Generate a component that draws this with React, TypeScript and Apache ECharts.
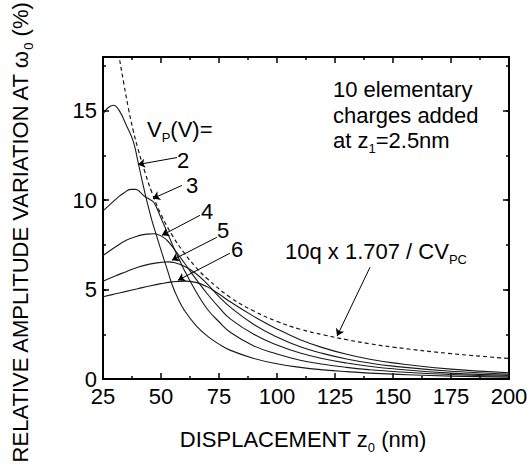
import React, { useEffect, useRef } from 'react';
import * as echarts from 'echarts';

const FONT = 'Liberation Sans, Arial, sans-serif';

const xTickLabels = [25, 50, 75, 100, 125, 150, 175, 200];
const yTickLabels = [0, 5, 10, 15];

const curveV2: [number, number][] = [
  [25, 14.8], [27, 15.15], [29.5, 15.3], [32, 15.0], [35, 14.2], [38, 13.3], [40, 12.2],
  [42, 11.0], [44, 9.9], [46, 8.9], [48, 8.05], [50, 7.2], [52.5, 6.2], [55, 5.2],
  [57.5, 4.45], [60, 3.85], [65, 3.0], [70, 2.4], [75, 1.95], [80, 1.6], [90, 1.15],
  [100, 0.85], [110, 0.65], [120, 0.51], [130, 0.41], [140, 0.33], [150, 0.27],
  [175, 0.16], [200, 0.1],
];
const curveV3: [number, number][] = [
  [25, 9.4], [28, 9.75], [31, 10.1], [34, 10.4], [37, 10.6], [39, 10.6], [41, 10.45],
  [43, 10.2], [45, 10.05], [47, 9.85], [50, 9.0], [53, 8.1], [56, 7.2], [60, 6.1],
  [65, 4.9], [70, 3.9], [75, 3.2], [80, 2.6], [90, 1.85], [100, 1.4], [110, 1.05],
  [120, 0.82], [130, 0.65], [140, 0.52], [150, 0.42], [175, 0.25], [200, 0.15],
];
const curveV4: [number, number][] = [
  [25, 6.9], [30, 7.35], [35, 7.75], [40, 8.0], [44, 8.1], [47, 8.12], [50, 8.0],
  [53, 7.7], [56, 7.2], [60, 6.5], [65, 5.6], [70, 4.75], [75, 4.0], [80, 3.35],
  [90, 2.5], [100, 1.9], [110, 1.45], [120, 1.13], [130, 0.89], [140, 0.71],
  [150, 0.57], [175, 0.33], [200, 0.2],
];
const curveV5: [number, number][] = [
  [25, 5.47], [30, 5.75], [35, 6.0], [40, 6.25], [45, 6.42], [50, 6.52], [53, 6.55],
  [56, 6.5], [60, 6.3], [65, 5.9], [70, 5.3], [75, 4.6], [80, 4.0], [90, 3.05],
  [100, 2.35], [110, 1.8], [120, 1.42], [130, 1.12], [140, 0.89], [150, 0.72],
  [175, 0.43], [200, 0.27],
];
const curveV6: [number, number][] = [
  [25, 4.6], [30, 4.75], [35, 4.9], [40, 5.05], [45, 5.2], [50, 5.33], [55, 5.43],
  [60, 5.47], [65, 5.4], [70, 5.15], [75, 4.75], [80, 4.3], [90, 3.5], [100, 2.8],
  [110, 2.2], [120, 1.74], [130, 1.38], [140, 1.1], [150, 0.9], [175, 0.55], [200, 0.35],
];
const envelope: [number, number][] = [
  [31, 19.0], [32, 18.0], [34, 16.5], [36, 15.1], [38, 13.9], [40, 12.9], [43, 11.6],
  [46, 10.45], [50, 9.2], [55, 8.0], [60, 7.05], [65, 6.25], [70, 5.6], [80, 4.55],
  [90, 3.8], [100, 3.22], [110, 2.78], [120, 2.47], [130, 2.2], [140, 1.97], [150, 1.78],
  [175, 1.42], [200, 1.15],
];

const vpLabels = ['2', '3', '4', '5', '6'];
// arrows: [fromX, fromY, toX, toY] in data coordinates
const vpArrows: [number, number, number, number][] = [
  [56.9, 12.38, 40.1, 11.99],
  [59.0, 10.82, 46.5, 10.09],
  [66.8, 9.15, 50.4, 8.03],
  [74.1, 7.92, 54.7, 6.64],
  [79.7, 7.03, 57.3, 5.52],
];
const envArrow: [number, number, number, number] = [140.1, 6.25, 125.9, 2.4];

const vpLabelPos: [number, number][] = [
  [183, 160], [192, 185], [207, 211], [223, 230], [237, 249],
];

export default function App() {
  const ref = useRef<HTMLDivElement>(null);
  useEffect(() => {
    if (!ref.current) return;
    const chart = echarts.init(ref.current, null, { renderer: 'svg' });
    const lineStyle = { color: '#1a1a1a', width: 1.1 };
    const mkSeries = (data: [number, number][]) => ({
      type: 'line',
      data,
      showSymbol: false,
      smooth: 0.45,
      lineStyle,
      silent: true,
      xAxisIndex: 0,
      yAxisIndex: 0,
    });
    const arrowData = [...vpArrows, envArrow].map((a) => [
      { coord: [a[0], a[1]], symbol: 'none' },
      { coord: [a[2], a[3]], symbol: 'arrow' },
    ]);
    const richMain = (fs: number) => ({
      m: { fontSize: fs, lineHeight: fs + 2, padding: [0, 0, 4, 0], verticalAlign: 'bottom', fontFamily: FONT, fill: '#000' },
      s: { fontSize: 13, lineHeight: 14, verticalAlign: 'bottom', fontFamily: FONT, fill: '#000' },
    });
    const axisCommonX = {
      type: 'value',
      min: 25,
      max: 200,
      interval: 25,
      axisLine: { show: true, onZero: false, lineStyle: { color: '#000', width: 2 } },
      axisTick: { show: true, inside: true, length: 6, lineStyle: { color: '#000', width: 1.5 } },
      minorTick: { show: true, splitNumber: 2, length: 3, lineStyle: { color: '#000', width: 1.5 } },
      splitLine: { show: false },
      minorSplitLine: { show: false },
    };
    const axisCommonY = (interval: number, len: number, showLine: boolean) => ({
      type: 'value',
      min: 0,
      max: 18,
      interval,
      axisLine: { show: showLine, onZero: false, lineStyle: { color: '#000', width: 2 } },
      axisTick: { show: true, inside: true, length: len, lineStyle: { color: '#000', width: 1.5 } },
      splitLine: { show: false },
    });
    chart.setOption({
      animation: false,
      backgroundColor: '#fff',
      grid: { left: 103, right: 18, top: 57, bottom: 94, containLabel: false, outerBoundsMode: 'none' },
      xAxis: [
        {
          ...axisCommonX,
          position: 'bottom',
          axisLabel: {
            show: true,
            margin: 6,
            fontSize: 22,
            fontFamily: FONT,
            color: '#000',
            formatter: (v: number) => (xTickLabels.includes(v) ? String(v) : ''),
          },
        },
        { ...axisCommonX, position: 'top', axisLabel: { show: false } },
      ],
      yAxis: [
        {
          ...axisCommonY(5, 6, true),
          position: 'left',
          axisLabel: {
            show: true,
            margin: 6,
            fontSize: 22,
            fontFamily: FONT,
            color: '#000',
            formatter: (v: number) => (yTickLabels.includes(v) ? String(v) : ''),
          },
        },
        { ...axisCommonY(5, 6, true), position: 'right', axisLabel: { show: false } },
        { ...axisCommonY(2.5, 3, false), position: 'left', axisLabel: { show: false } },
        { ...axisCommonY(2.5, 3, false), position: 'right', axisLabel: { show: false } },
      ],
      series: [
        mkSeries(curveV2),
        mkSeries(curveV3),
        mkSeries(curveV4),
        mkSeries(curveV5),
        mkSeries(curveV6),
        {
          type: 'line',
          data: envelope,
          showSymbol: false,
          smooth: 0.45,
          silent: true,
          lineStyle: { color: '#1a1a1a', width: 1.2, type: [4, 3] },
          markLine: {
            silent: true,
            animation: false,
            symbol: ['none', 'arrow'],
            symbolSize: 7,
            label: { show: false },
            lineStyle: { color: '#000', width: 1, type: 'solid' },
            emphasis: { disabled: true },
            data: arrowData,
          },
        },
      ],
      graphic: [
        ...vpLabels.map((t, i) => ({
          type: 'text',
          x: vpLabelPos[i][0],
          y: vpLabelPos[i][1],
          style: { text: t, fontSize: 22, fontFamily: FONT, fill: '#000', align: 'center', verticalAlign: 'middle' },
        })),
        {
          type: 'text',
          x: 147,
          y: 132,
          style: { text: '{m|V}{s|P}{m|(V)=}', rich: richMain(22), align: 'left', verticalAlign: 'middle' },
        },
        {
          type: 'text',
          x: 333,
          y: 89,
          style: { text: '10 elementary', fontSize: 22, fontFamily: FONT, fill: '#000', align: 'left', verticalAlign: 'middle' },
        },
        {
          type: 'text',
          x: 333,
          y: 115,
          style: { text: 'charges added', fontSize: 22, fontFamily: FONT, fill: '#000', align: 'left', verticalAlign: 'middle' },
        },
        {
          type: 'text',
          x: 333,
          y: 143,
          style: { text: '{m|at z}{s|1}{m|=2.5nm}', rich: richMain(22), align: 'left', verticalAlign: 'middle' },
        },
        {
          type: 'text',
          x: 285,
          y: 254,
          style: { text: '{m|10q x 1.707 / CV}{s|PC}', rich: richMain(22), align: 'left', verticalAlign: 'middle' },
        },
        {
          type: 'text',
          x: 303,
          y: 442,
          style: { text: '{m|DISPLACEMENT z}{s|0}{m| (nm)}', rich: richMain(22), align: 'center', verticalAlign: 'middle' },
        },
        {
          type: 'text',
          x: 23,
          y: 233,
          rotation: Math.PI / 2,
          style: {
            text: '{m|RELATIVE AMPLITUDE VARIATION AT ω}{s|0}{m| (%)}',
            rich: richMain(22),
            align: 'center',
            verticalAlign: 'middle',
          },
        },
      ],
    });
    return () => chart.dispose();
  }, []);
  return (
    <div
      ref={ref}
      style={{ position: 'fixed', left: 0, top: 0, width: 527, height: 473, background: '#fff' }}
    />
  );
}
